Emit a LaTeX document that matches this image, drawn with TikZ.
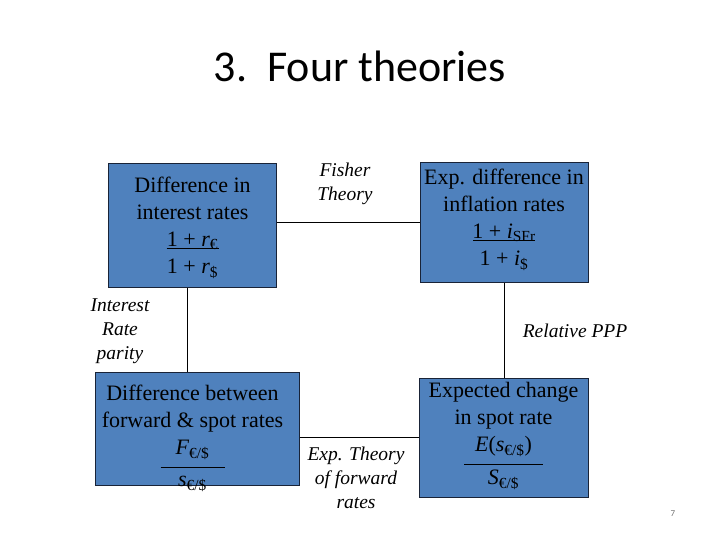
\documentclass[tikz,border=0pt]{standalone}
\usepackage{fontspec}
\setmainfont{Liberation Serif}[ItalicFont={Liberation Serif Italic}]
\newfontfamily\calibri{Carlito}
\definecolor{boxblue}{RGB}{79,129,189}
\definecolor{boxline}{RGB}{25,35,55}
\newcommand\numer[3]{\vtop{\hbox to #1{\hss\raisebox{0pt}[\height][0pt]{#3}\hss}\kern#2\hrule height 1.2pt}}
\tikzset{
  theorybox/.style={draw=boxline, line width=0.9pt, fill=boxblue, inner sep=0pt},
  boxtext/.style={align=center, inner sep=0pt, font=\fontsize{22}{27}\selectfont},
  theorylabel/.style={align=center, inner sep=0pt, font=\fontsize{19.5}{24}\selectfont\itshape},
  link/.style={draw=black, line width=0.8pt}
}
\begin{document}
\begin{tikzpicture}[x=1pt,y=-1pt]
\useasboundingbox (0,0) rectangle (720,540);
\node[font=\calibri\fontsize{44}{50}\selectfont, inner sep=0pt] (title) at (360,66) {3.\ \ Four theories};
% boxes
\node[theorybox, minimum width=168pt, minimum height=124pt] (tl) at (192.5,225.5) {};
\node[theorybox, minimum width=168pt, minimum height=120pt] (tr) at (504,222.5) {};
\node[theorybox, minimum width=204pt, minimum height=113pt] (bl) at (197.5,428.5) {};
\node[theorybox, minimum width=169pt, minimum height=119pt] (br) at (503.5,437.5) {};
% box texts
\node[boxtext] (tltext) at (192.5,228) {Difference in\\interest rates\\\numer{52pt}{1.5pt}{1 + \textit{r}\textsubscript{€}}\\1 + \textit{r}\textsubscript{\$}};
\node[boxtext] (trtext) at (504,219.5) {Exp. difference in\\inflation rates\\\numer{62pt}{1.5pt}{1 + \textit{i}\textsubscript{SFr}}\\1 + \textit{i}\textsubscript{\$}};
\node[boxtext] (bltext) at (192.5,438) {Difference between\\forward \& spot rates\\\numer{64pt}{13pt}{\textit{F}\textsubscript{€/\$}}\\[5pt]\textit{s}\textsubscript{€/\$}};
\node[boxtext] (brtext) at (503.5,436) {Expected change\\in spot rate\\\numer{79pt}{13pt}{\textit{E}(\textit{s}\textsubscript{€/\$})}\\[4pt]\textit{S}\textsubscript{€/\$}};
% connectors
\draw[link] (tl.east |- tr.west) -- (tr.west);
\draw[link] ([xshift=-5.5pt]tl.south) -- ([xshift=-5.5pt]tl.south |- bl.north);
\draw[link] (tr.south) -- (tr.south |- br.north);
\draw[link] (bl.east |- 0,437) -- (br.west |- 0,437);
% labels
\node[theorylabel] (fisher) at (345,184) {Fisher\\Theory};
\node[theorylabel] (irp) at (120,331) {Interest\\Rate\\parity};
\node[theorylabel] (ppp) at (575,331) {Relative PPP};
\node[theorylabel] (eft) at (356,478) {Exp. Theory\\of forward\\rates};
\node[font=\calibri\fontsize{9}{10}\selectfont, text=black!55, inner sep=0pt] (page) at (673,514) {7};
\end{tikzpicture}
\end{document}
